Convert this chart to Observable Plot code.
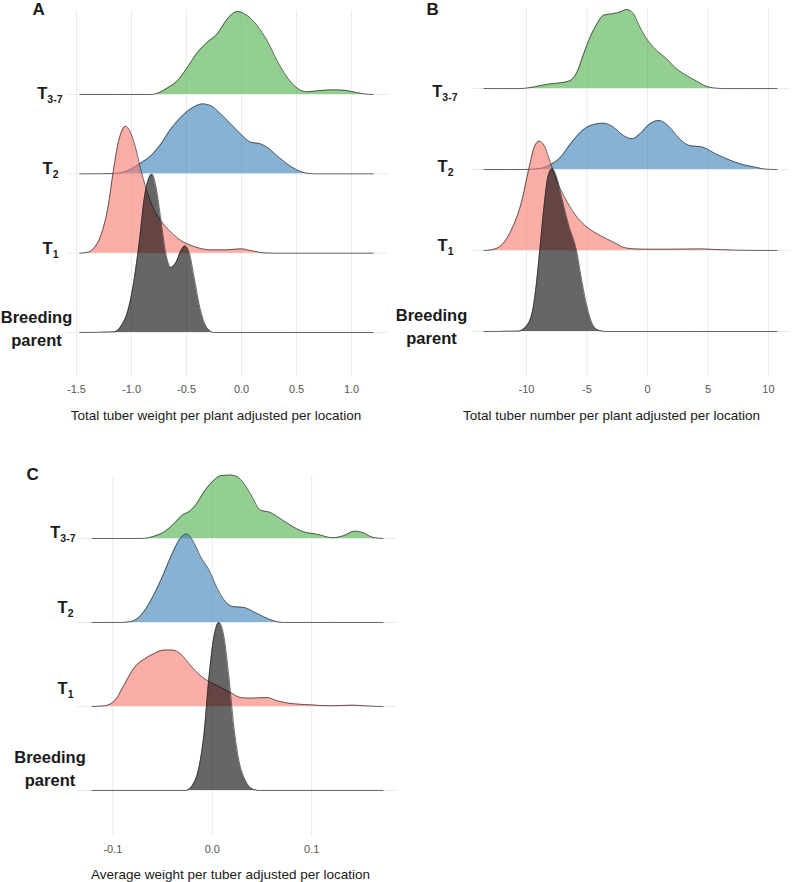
<!DOCTYPE html>
<html><head><meta charset="utf-8">
<script src="https://cdn.jsdelivr.net/npm/d3@7"></script>
<script src="https://cdn.jsdelivr.net/npm/@observablehq/plot@0.6"></script>
<style>
body{margin:0;background:#fff;}
#wrap{position:relative;width:793px;height:882px;background:#fff;}
.panel{position:absolute;}
</style></head><body><div id="wrap"></div>
<script>
// Groups, drawn top to bottom (row index: baseline position)
const groupNames = ["T3-7", "T2", "T1", "Breeding parent"];
const groupRows = [3, 2, 1, 0];
const groupFills = ["#4DAF4A", "#377EB8", "#F8766D", "#000000"];

// ---- Panel A: Total tuber weight per plant (x, ridge height) ----
const A_T37 = [[-1.470,0],[-0.822,0],[-0.762,0.017],[-0.672,0.084],[-0.581,0.176],[-0.491,0.345],[-0.401,0.53],[-0.310,0.66],[-0.220,0.765],[-0.130,0.95],[-0.039,1.046],[0.051,0.996],[0.142,0.87],[0.232,0.68],[0.322,0.43],[0.413,0.22],[0.503,0.084],[0.593,0.034],[0.714,0.05],[0.834,0.059],[0.955,0.05],[1.045,0.025],[1.136,0.004],[1.196,0]];
const A_T2 = [[-1.470,0],[-1.154,0.004],[-1.033,0.042],[-0.913,0.139],[-0.822,0.23],[-0.732,0.378],[-0.642,0.567],[-0.551,0.714],[-0.461,0.82],[-0.355,0.882],[-0.280,0.86],[-0.190,0.756],[-0.099,0.63],[-0.009,0.504],[0.081,0.40],[0.172,0.378],[0.232,0.336],[0.322,0.23],[0.413,0.126],[0.503,0.05],[0.593,0.008],[0.684,0],[1.196,0]];
const A_T1 = [[-1.470,0],[-1.395,0.013],[-1.334,0.076],[-1.274,0.244],[-1.214,0.58],[-1.169,1.0],[-1.123,1.378],[-1.093,1.525],[-1.057,1.60],[-1.018,1.546],[-0.973,1.378],[-0.913,1.04],[-0.852,0.748],[-0.792,0.538],[-0.732,0.41],[-0.642,0.265],[-0.551,0.16],[-0.431,0.084],[-0.280,0.042],[-0.130,0.042],[-0.009,0.055],[0.081,0.034],[0.202,0.004],[0.292,0],[1.196,0]];
const A_BP = [[-1.470,0],[-1.154,0.008],[-1.093,0.084],[-1.033,0.273],[-0.973,0.693],[-0.928,1.155],[-0.883,1.70],[-0.846,1.93],[-0.813,1.996],[-0.777,1.83],[-0.732,1.41],[-0.687,0.987],[-0.642,0.82],[-0.596,0.882],[-0.551,1.03],[-0.515,1.09],[-0.476,1.01],[-0.431,0.693],[-0.386,0.357],[-0.340,0.126],[-0.295,0.03],[-0.250,0],[1.196,0]];
const A_ticks = [-1.5, -1.0, -0.5, 0.0, 0.5, 1.0];
const A_tickLabels = ["-1.5", "-1.0", "-0.5", "0.0", "0.5", "1.0"];
const A_title = "Total tuber weight per plant adjusted per location";

// ---- Panel B: Total tuber number per plant ----
const B_T37 = [[-13.51,0],[-10.45,0],[-9.36,0.02],[-8.27,0.053],[-7.18,0.07],[-6.36,0.10],[-5.81,0.206],[-5.27,0.43],[-4.72,0.64],[-4.17,0.80],[-3.63,0.905],[-2.81,0.926],[-2.26,0.946],[-1.72,0.975],[-1.17,0.926],[-0.63,0.76],[-0.08,0.617],[0.74,0.473],[1.56,0.37],[2.37,0.247],[3.19,0.165],[4.01,0.095],[4.83,0.029],[5.65,0.004],[6.19,0],[10.70,0]];
const B_T2 = [[-13.51,0],[-10.04,0],[-9.09,0.008],[-7.99,0.062],[-7.18,0.152],[-6.36,0.317],[-5.54,0.46],[-4.72,0.543],[-3.63,0.572],[-2.81,0.523],[-1.99,0.42],[-1.26,0.38],[-0.63,0.44],[0.19,0.564],[0.93,0.605],[1.83,0.523],[2.65,0.38],[3.47,0.296],[4.56,0.276],[5.65,0.193],[6.74,0.12],[7.83,0.062],[8.92,0.029],[9.74,0.004],[10.70,0]];
const B_T1 = [[-13.51,0],[-12.91,0.008],[-12.09,0.062],[-11.27,0.247],[-10.45,0.576],[-9.77,1.03],[-9.36,1.276],[-8.95,1.35],[-8.54,1.296],[-7.99,1.07],[-7.45,0.844],[-6.63,0.597],[-5.81,0.41],[-4.99,0.288],[-3.90,0.185],[-2.81,0.103],[-1.72,0.029],[-0.35,0.016],[1.83,0.016],[4.28,0.02],[5.65,0.012],[7.29,0.004],[10.70,0]];
const B_BP = [[-13.51,0],[-10.72,0.004],[-10.04,0.06],[-9.50,0.25],[-9.17,0.6],[-8.90,1.0],[-8.54,1.55],[-8.21,1.92],[-7.86,2.008],[-7.50,1.9],[-7.04,1.62],[-6.49,1.3],[-5.87,1.0],[-5.40,0.6],[-4.99,0.3],[-4.58,0.1],[-4.04,0.015],[-3.49,0],[10.70,0]];
const B_ticks = [-10, -5, 0, 5, 10];
const B_tickLabels = ["-10", "-5", "0", "5", "10"];
const B_title = "Total tuber number per plant adjusted per location";

// ---- Panel C: Average weight per tuber ----
const C_T37 = [[-0.121,0],[-0.0717,0],[-0.0583,0.028],[-0.0483,0.08],[-0.0383,0.18],[-0.030,0.28],[-0.0233,0.32],[-0.0167,0.40],[-0.0083,0.557],[0.0,0.676],[0.0083,0.748],[0.0183,0.755],[0.025,0.736],[0.0317,0.656],[0.040,0.497],[0.0483,0.338],[0.0583,0.31],[0.0683,0.239],[0.0783,0.16],[0.0917,0.08],[0.105,0.052],[0.1217,0.008],[0.1317,0.032],[0.1433,0.087],[0.1517,0.068],[0.1617,0.012],[0.1717,0]];
const C_T2 = [[-0.121,0],[-0.0917,0],[-0.0817,0.012],[-0.0717,0.087],[-0.0617,0.266],[-0.0517,0.505],[-0.0417,0.783],[-0.0333,0.982],[-0.026,1.054],[-0.020,0.982],[-0.0117,0.783],[-0.0033,0.624],[0.005,0.406],[0.0133,0.247],[0.0217,0.187],[0.0317,0.179],[0.0417,0.127],[0.0517,0.068],[0.0617,0.02],[0.0717,0],[0.1717,0]];
const C_T1 = [[-0.121,0],[-0.1083,0.008],[-0.0983,0.068],[-0.0883,0.266],[-0.0783,0.465],[-0.0683,0.565],[-0.0583,0.632],[-0.0483,0.672],[-0.040,0.672],[-0.0317,0.624],[-0.0217,0.485],[-0.0117,0.366],[-0.0017,0.286],[0.0083,0.227],[0.0183,0.167],[0.0283,0.107],[0.0383,0.099],[0.055,0.107],[0.065,0.068],[0.0783,0.036],[0.0983,0.02],[0.1183,0.008],[0.1417,0.016],[0.1583,0.004],[0.1717,0]];
const C_BP = [[-0.121,0],[-0.0267,0],[-0.020,0.06],[-0.0133,0.278],[-0.0083,0.676],[-0.0033,1.35],[0.0017,1.83],[0.0067,2.0],[0.0117,1.83],[0.0167,1.35],[0.0217,0.755],[0.0267,0.358],[0.0333,0.119],[0.040,0.02],[0.0467,0],[0.1717,0]];
const C_ticks = [-0.1, 0.0, 0.1];
const C_tickLabels = ["-0.1", "0.0", "0.1"];
const C_title = "Average weight per tuber adjusted per location";

const FONT = "'Liberation Sans', Arial, Helvetica, sans-serif";

function makePanel(cfg) {
  const marks = [
    Plot.gridX({ticks: cfg.ticks, stroke: "#ebebeb", strokeOpacity: 1, strokeWidth: 1}),
    Plot.gridY({ticks: [0, 1, 2, 3], stroke: "#ebebeb", strokeOpacity: 1, strokeWidth: 1})
  ];
  cfg.series.forEach((pts, gi) => {
    const row = groupRows[gi];
    const data = pts.map(([x, h]) => ({x, y1: row, y2: row + h}));
    marks.push(Plot.areaY(data, {x: "x", y1: "y1", y2: "y2", fill: groupFills[gi], fillOpacity: 0.6, curve: "monotone-x"}));
    marks.push(Plot.lineY(data, {x: "x", y: "y2", stroke: "#2b2b2b", strokeWidth: 0.7, curve: "monotone-x"}));
  });
  const tickMap = new Map(cfg.ticks.map((t, i) => [t, cfg.tickLabels[i]]));
  marks.push(Plot.axisX({ticks: cfg.ticks, tickSize: 0, tickPadding: 8, tickFormat: d => tickMap.get(d), fontSize: 11, fill: "#555", label: null}));
  marks.push(Plot.text([cfg.title], {frameAnchor: "bottom", dx: cfg.titleDx, dy: cfg.titleDy, fontSize: 13.5, fill: "#1a1a1a", lineAnchor: "middle"}));
  marks.push(Plot.text([cfg.letter], {frameAnchor: "top-left", dx: cfg.letterDx, dy: cfg.letterDy, fontSize: 17, fontWeight: "bold", fill: "#1a1a1a", textAnchor: "start", lineAnchor: "middle"}));
  groupNames.forEach((name, gi) => {
    const lp = cfg.labelPos[gi];
    const isBP = name === "Breeding parent";
    marks.push(Plot.text([{x: cfg.xDomain[0], y: groupRows[gi], t: isBP ? "Breeding\nparent" : name}], {
      x: "x", y: "y", text: "t", dx: lp[0], dy: lp[1],
      textAnchor: isBP ? "middle" : "end", lineAnchor: "middle", lineHeight: 1.4,
      fontSize: 16.5, fontWeight: "bold", fill: "#1a1a1a"
    }));
  });
  const svg = Plot.plot({
    width: cfg.width, height: cfg.height,
    marginLeft: cfg.ml, marginRight: cfg.mr, marginTop: cfg.mt, marginBottom: cfg.mb,
    x: {domain: cfg.xDomain, axis: null, label: null},
    y: {domain: cfg.yDomain, axis: null, label: null},
    style: {fontFamily: FONT, background: "white", overflow: "visible"},
    marks
  });
  // subscripts for generation labels
  svg.querySelectorAll("text").forEach(t => {
    if (t.childElementCount === 0) {
      const m = /^T(3-7|1|2)$/.exec(t.textContent);
      if (m) {
        t.textContent = "T";
        const ts = document.createElementNS("http://www.w3.org/2000/svg", "tspan");
        ts.setAttribute("dy", "4");
        ts.setAttribute("font-size", "10.5");
        ts.textContent = m[1];
        t.appendChild(ts);
      }
    }
  });
  const div = document.createElement("div");
  div.className = "panel";
  div.style.left = cfg.left + "px";
  div.style.top = cfg.top + "px";
  div.appendChild(svg);
  document.getElementById("wrap").appendChild(div);
}

makePanel({
  left: 0, top: 0, width: 400, height: 430, ml: 67, mr: 12, mt: 10, mb: 53,
  xDomain: [-1.582, 1.336], yDomain: [-0.567, 4.059],
  series: [A_T37, A_T2, A_T1, A_BP], ticks: A_ticks, tickLabels: A_tickLabels,
  title: A_title, titleDx: -12, titleDy: 38, letter: "A", letterDx: -35, letterDy: -1,
  labelPos: [[-5, -3], [-9, -7.5], [-9, -7], [-31, -5.5]]
});
makePanel({
  left: 400, top: 0, width: 393, height: 430, ml: 72, mr: 3, mt: 8, mb: 53,
  xDomain: [-14.46, 11.82], yDomain: [-0.568, 3.988],
  series: [B_T37, B_T2, B_T1, B_BP], ticks: B_ticks, tickLabels: B_tickLabels,
  title: B_title, titleDx: -20, titleDy: 38, letter: "B", letterDx: -46, letterDy: 1,
  labelPos: [[-15, 1], [-19, -4.5], [-19, -6.5], [-41, -6.5]]
});
makePanel({
  left: 0, top: 440, width: 400, height: 442, ml: 77, mr: 3, mt: 35, mb: 45,
  xDomain: [-0.1356, 0.1863], yDomain: [-0.56, 3.75],
  series: [C_T37, C_T2, C_T1, C_BP], ticks: C_ticks, tickLabels: C_tickLabels,
  title: C_title, titleDx: -7, titleDy: 37, letter: "C", letterDx: -51, letterDy: -0.5,
  labelPos: [[-2, -8], [-4, -16.5], [-4, -19.5], [-27.5, -23.5]]
});
</script></body></html>
